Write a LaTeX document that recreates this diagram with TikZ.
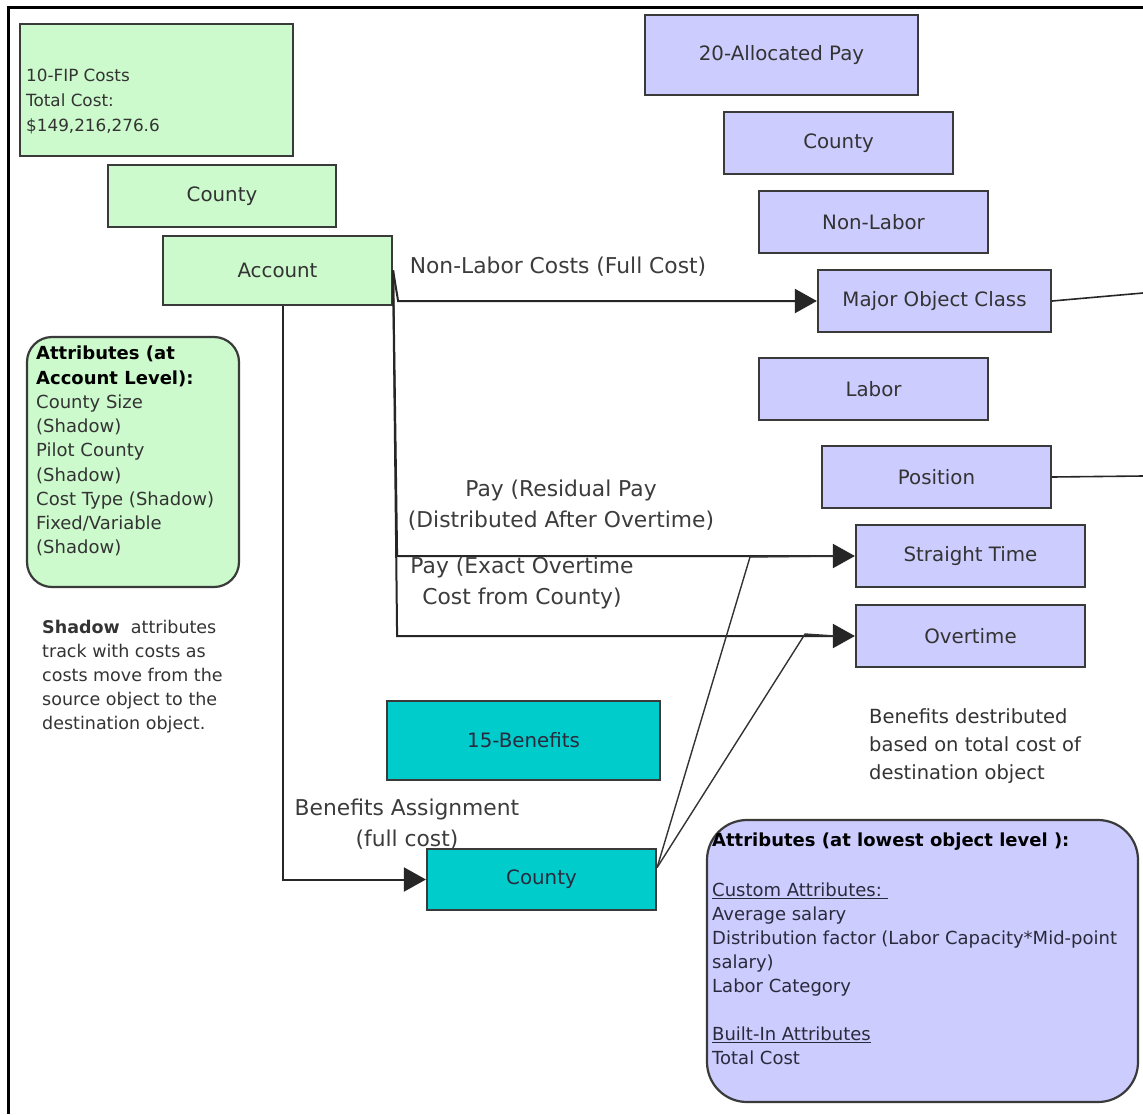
\documentclass[tikz,border=0pt]{standalone}
\usepackage{fontspec}
\setmainfont{DejaVu Sans}
\usetikzlibrary{arrows.meta}

\definecolor{mint}{HTML}{CCFACC}
\definecolor{lavender}{HTML}{CCCCFF}
\definecolor{tealfill}{HTML}{00CCCC}
\definecolor{rimgray}{HTML}{3A3A3A}
\definecolor{inkgray}{HTML}{333333}
\definecolor{labelgray}{HTML}{3C3C3C}
\definecolor{navyink}{HTML}{2A2A3C}

\begin{document}
\begin{tikzpicture}[x=1pt,y=-1pt,
  box/.style={draw=rimgray, line width=2.2pt, rectangle, inner sep=0pt,
    font=\fontsize{19.8}{23}\selectfont, text=inkgray},
  greenbox/.style={box, fill=mint},
  purplebox/.style={box, fill=lavender, minimum width=229pt, minimum height=62pt},
  tealbox/.style={box, fill=tealfill, text=navyink},
  roundbox/.style={draw=rimgray, line width=2.2pt, rounded corners=#1, inner sep=0pt},
  note/.style={inner sep=0pt, align=left, text=inkgray},
  lbl/.style={inner sep=0pt, align=center, text=labelgray,
    font=\fontsize{21.8}{31}\selectfont},
  conn/.style={draw=black!85, line width=2pt},
  arr/.style={conn, -{Triangle[length=22pt,width=24pt]}},
  thinline/.style={draw=black!80, line width=1.4pt}
]
\useasboundingbox (0,0) rectangle (1143,1114);
\fill[white] (0,0) rectangle (1143,1114);

% outer frame
\draw[line width=3pt, black] (8,1114) -- (8,7) -- (1143,7);

% ---- source: 10-FIP Costs ----
\node[greenbox, minimum width=273pt, minimum height=132pt] (fip) at (156.5,90) {};
\node[note, anchor=west, font=\fontsize{16.8}{25}\selectfont] (fiptext) at (26,101)
  {10-FIP Costs\\Total Cost:\\\$149,216,276.6};
\node[greenbox, minimum width=228pt, minimum height=62pt] (countyg) at (222,196) {County};
\node[greenbox, minimum width=229pt, minimum height=69pt] (account) at (277.5,270.5) {Account};

% account-level attributes
\node[roundbox=25pt, fill=mint, minimum width=212pt, minimum height=250pt] (attrg) at (133,462) {};
\node[note, anchor=north west, font=\fontsize{18}{24.25}\selectfont] (attrgtext) at (36,346)
  {\textcolor{black}{\textbf{Attributes (at}}\\
   \textcolor{black}{\textbf{Account Level):}}\\
   County Size\\(Shadow)\\Pilot County\\(Shadow)\\Cost Type (Shadow)\\Fixed/Variable\\(Shadow)};

\node[note, anchor=west, font=\fontsize{17.5}{24}\selectfont] (shadownote) at (42,677)
  {\textbf{Shadow}\ \ attributes\\track with costs as\\costs move from the\\source object to the\\destination object.};

% ---- destination: 20-Allocated Pay ----
\node[box, fill=lavender, minimum width=273pt, minimum height=80pt] (alloc) at (781.5,55) {20-Allocated Pay};
\node[purplebox] (countyp) at (838.5,143) {County};
\node[purplebox] (nonlabor) at (873.5,222) {Non-Labor};
\node[purplebox, minimum width=233pt] (moc) at (934.5,301) {Major Object Class};
\node[purplebox] (labor) at (873.5,389) {Labor};
\node[purplebox] (position) at (936.5,477) {Position};
\node[purplebox] (straight) at (970.5,556) {Straight Time};
\node[purplebox] (overtime) at (970.5,636) {Overtime};

% ---- 15-Benefits ----
\node[tealbox, minimum width=273pt, minimum height=79pt] (benefits) at (523.5,740.5) {15-Benefits};
\node[tealbox, minimum width=229pt, minimum height=61pt] (countyt) at (541.5,879.5) {County};

% lowest-level attributes
\node[roundbox=40pt, fill=lavender, minimum width=431pt, minimum height=282pt] (lowattr) at (922.5,961) {};
\node[note, anchor=north west, text=navyink, font=\fontsize{18}{24}\selectfont] (lowattrtext) at (712,833)
  {\textcolor{black}{\textbf{Attributes (at lowest object level ):}}\\[26pt]
   \underline{Custom Attributes:\ }\\
   Average salary\\
   Distribution factor (Labor Capacity*Mid-point\\
   salary)\\
   Labor Category\\[24pt]
   \underline{Built-In Attributes}\\
   Total Cost};

\node[note, anchor=west, font=\fontsize{19.5}{28}\selectfont] (benefitnote) at (869,746)
  {Benefits destributed\\based on total cost of\\destination object};

% ---- connectors ----
\coordinate (stjoin) at (750,557);
\coordinate (otjoin) at (805,634);
\coordinate (mocout) at (1143,293);
\coordinate (posout) at (1143,476);

\draw[arr] (account.east) -- ([xshift=5pt]account.east |- moc.west) -- (moc.west);
\draw[arr] (account.east) -- ([xshift=4pt]account.east |- straight.west) -- (straight.west);
\draw[arr] (account.east) -- ([xshift=4pt]account.east |- overtime.west) -- (overtime.west);
\draw[arr] ([xshift=5.5pt]account.south) -- ([xshift=5.5pt]account.south |- countyt.west) -- (countyt.west);

\draw[thinline] ([yshift=12pt]countyt.east) -- (stjoin) -- ([xshift=-20pt]straight.west);
\draw[thinline] ([yshift=12pt]countyt.east) -- (otjoin) -- ([xshift=-20pt]overtime.west);

\draw[conn, line width=1.6pt] (moc.east) -- (mocout);
\draw[conn, line width=1.6pt] (position.east) -- (posout);

% ---- connector labels ----
\node[lbl] (lblnonlabor) at (558,267) {Non-Labor Costs (Full Cost)};
\node[lbl] (lblresidual) at (561,505) {Pay (Residual Pay\\(Distributed After Overtime)};
\node[lbl] (lblexact) at (522,583) {Pay (Exact Overtime\\Cost from County)};
\node[lbl] (lblbenefits) at (407,824) {Benefits Assignment\\(full cost)};
\end{tikzpicture}
\end{document}
